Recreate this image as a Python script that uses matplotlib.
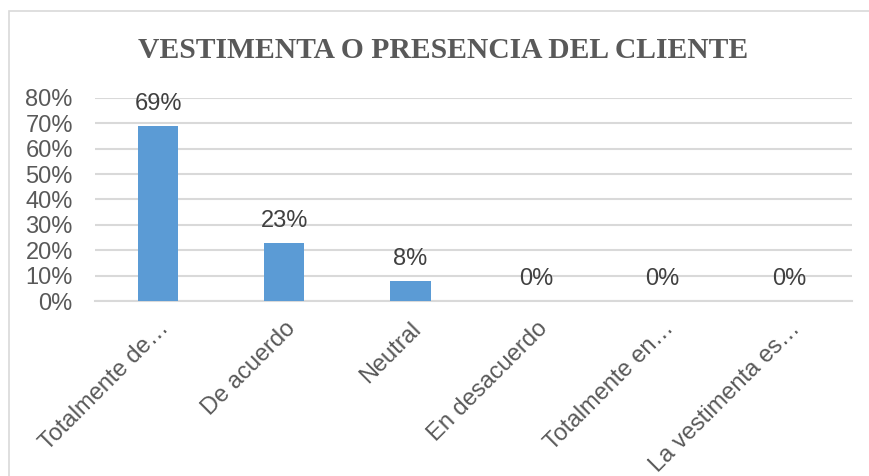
import matplotlib
matplotlib.use("Agg")
import matplotlib.pyplot as plt
from matplotlib.patches import Rectangle

# ------------------------------------------------------------------------
# DATA
# ------------------------------------------------------------------------
categories = ["Totalmente de…", "De acuerdo", "Neutral", "En desacuerdo",
              "Totalmente en…", "La vestimenta es…"]
values     = [0.69, 0.23, 0.08, 0.0, 0.0, 0.0]
labels     = ["69%", "23%", "8%", "0%", "0%", "0%"]
yticks     = [0.0, 0.1, 0.2, 0.3, 0.4, 0.5, 0.6, 0.7, 0.8]
title      = "VESTIMENTA O PRESENCIA DEL CLIENTE"

BAR_COLOR  = "#5B9BD5"
TEXT_COLOR = "#595959"
GRID_COLOR = "#D9D9D9"

# ------------------------------------------------------------------------
# PLOT
# ------------------------------------------------------------------------
W, H = 870, 476
fig = plt.figure(figsize=(W / 100, H / 100), dpi=100)

# chart frame (runs off the right/bottom edge in the original)
fig.patches.append(Rectangle((9 / W, -0.05), 1.0, (H - 11) / H + 0.05,
                             transform=fig.transFigure, fill=False,
                             edgecolor="#D9D9D9", linewidth=1.2))

ax = fig.add_axes([95 / W, (H - 301) / H, (852 - 95) / W, (301 - 98) / H])

x = range(len(categories))
ax.bar(x, values, width=0.32, color=BAR_COLOR, zorder=3)

for xi, v, lab in zip(x, values, labels):
    ax.annotate(lab, (xi, v), xytext=(0, 8), textcoords="offset points",
                ha="center", va="bottom", fontsize=17, color="#404040",
                family="Liberation Sans")

ax.set_xlim(-0.5, len(categories) - 0.5)
ax.set_ylim(0, 0.8)
ax.set_yticks(yticks)
ax.set_yticklabels([f"{int(round(t * 100))}%" for t in yticks],
                   fontsize=17, color=TEXT_COLOR, family="Liberation Sans")
ax.set_xticks(list(x))
ax.set_xticklabels(categories, rotation=45, ha="right", va="top",
                   rotation_mode="anchor", fontsize=17, color=TEXT_COLOR,
                   family="Liberation Sans")

ax.grid(axis="y", color=GRID_COLOR, linewidth=1.5, zorder=0)
for s in ["top", "right", "left"]:
    ax.spines[s].set_visible(False)
ax.spines["bottom"].set_color(GRID_COLOR)
ax.spines["bottom"].set_linewidth(1.5)
ax.tick_params(axis="both", length=0)
ax.tick_params(axis="y", pad=16)
ax.tick_params(axis="x", pad=12)

fig.text(443 / W, (H - 50) / H, title, ha="center", va="center",
         fontsize=21.3, fontweight="bold", color=TEXT_COLOR,
         family="Liberation Serif")

fig.savefig("out.png", dpi=100)
